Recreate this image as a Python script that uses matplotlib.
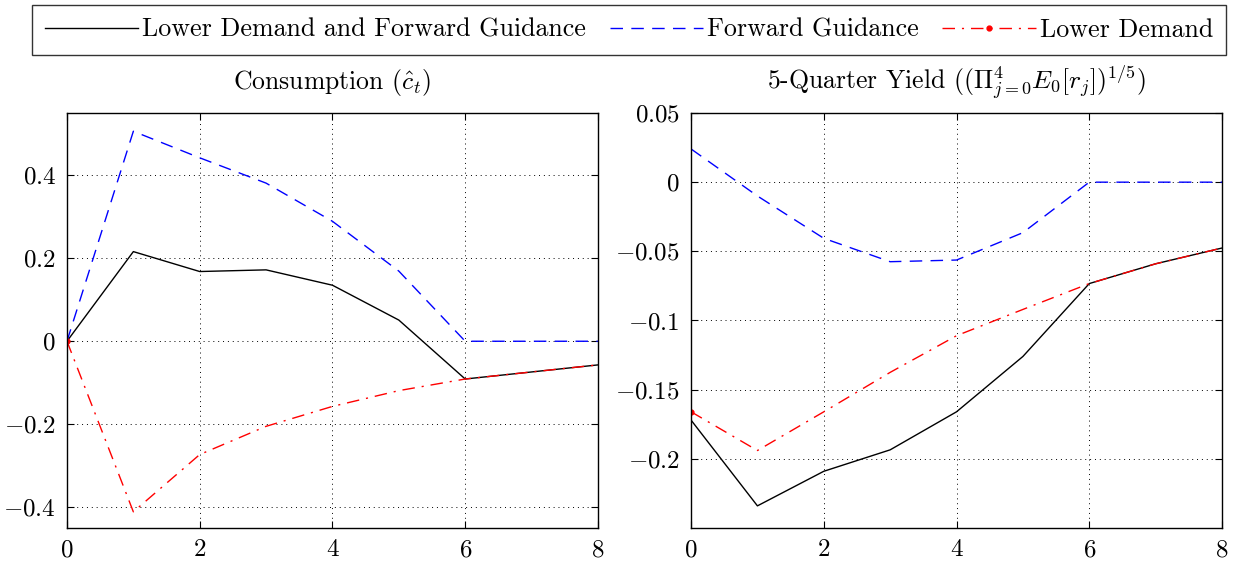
import matplotlib
matplotlib.use('Agg')
import matplotlib.pyplot as plt
from matplotlib.ticker import FuncFormatter
import numpy as np

plt.rcParams['font.family'] = ['cmr10', 'DejaVu Serif']
plt.rcParams['mathtext.fontset'] = 'cm'
plt.rcParams['axes.formatter.use_mathtext'] = True

# quarters
quarters = np.arange(9)

# Consumption responses
cons_both = [0.0, 0.216, 0.168, 0.172, 0.135, 0.051, -0.091, -0.074, -0.057]
cons_fg = [0.0, 0.506, 0.442, 0.381, 0.289, 0.169, 0.0, 0.0, 0.0]
cons_ld = [0.0, -0.411, -0.273, -0.205, -0.157, -0.119, -0.091, -0.074, -0.057]

# 5-quarter yield responses
yld_both = [-0.172, -0.234, -0.209, -0.1935, -0.166, -0.126, -0.0733, -0.059, -0.0476]
yld_fg = [0.024, -0.010, -0.0406, -0.0575, -0.0563, -0.0365, 0.0, 0.0, 0.0]
yld_ld = [-0.166, -0.194, -0.166, -0.1375, -0.111, -0.092, -0.0733, -0.059, -0.0476]

titles = [r'Consumption ($\hat{c}_t$)',
          r'5-Quarter Yield ($(\Pi_{j=0}^{4}E_0[r_j])^{1/5}$)']
left_yticks = [-0.4, -0.2, 0, 0.2, 0.4]
right_yticks = [-0.2, -0.15, -0.1, -0.05, 0, 0.05]

fmt = FuncFormatter(lambda v, pos: '$%s$' % ('%g' % round(v, 4)))

fig = plt.figure(figsize=(12.38, 5.65), dpi=100)
ax1 = fig.add_axes([0.0541, 0.0655, 0.4289, 0.7345])
ax2 = fig.add_axes([0.5582, 0.0655, 0.4289, 0.7345])

panels = [
    (ax1, cons_both, cons_fg, cons_ld, (-0.45, 0.55), left_yticks, titles[0]),
    (ax2, yld_both, yld_fg, yld_ld, (-0.25, 0.05), right_yticks, titles[1]),
]

handles = None
for ax, both, fg, ld, ylim, yticks, title in panels:
    h1, = ax.plot(quarters, both, color='black', lw=1.0,
                  label='Lower Demand and Forward Guidance')
    h2, = ax.plot(quarters, fg, color='blue', lw=1.0, dashes=(9, 6),
                  label='Forward Guidance')
    h3, = ax.plot(quarters, ld, color='red', lw=1.0, dashes=(9, 5, 1.5, 5),
                  marker='.', markersize=7, markevery=[0],
                  label='Lower Demand')
    handles = [h1, h2, h3]
    ax.set_xlim(0, 8)
    ax.set_ylim(*ylim)
    ax.set_xticks([0, 2, 4, 6, 8])
    ax.set_yticks(yticks)
    ax.xaxis.set_major_formatter(fmt)
    ax.yaxis.set_major_formatter(fmt)
    ax.grid(True, color='black', linestyle=(0, (1, 4)), lw=0.7)
    ax.tick_params(direction='in', top=True, right=True, labelsize=18,
                   length=5, width=0.8, pad=8)
    for s in ax.spines.values():
        s.set_linewidth(1.0)
    ax.set_title(title, fontsize=18.5, pad=17)

leg = fig.legend(handles=handles, loc='upper left', ncol=3,
                 bbox_to_anchor=(32 / 1238, 1 - 5 / 565),
                 fontsize=18.7, frameon=True, fancybox=False, edgecolor='black',
                 handlelength=3.6, handletextpad=0.15, columnspacing=0.9,
                 borderpad=0.5, borderaxespad=0)
leg.get_frame().set_linewidth(1.0)

fig.savefig('out.png', dpi=100)
